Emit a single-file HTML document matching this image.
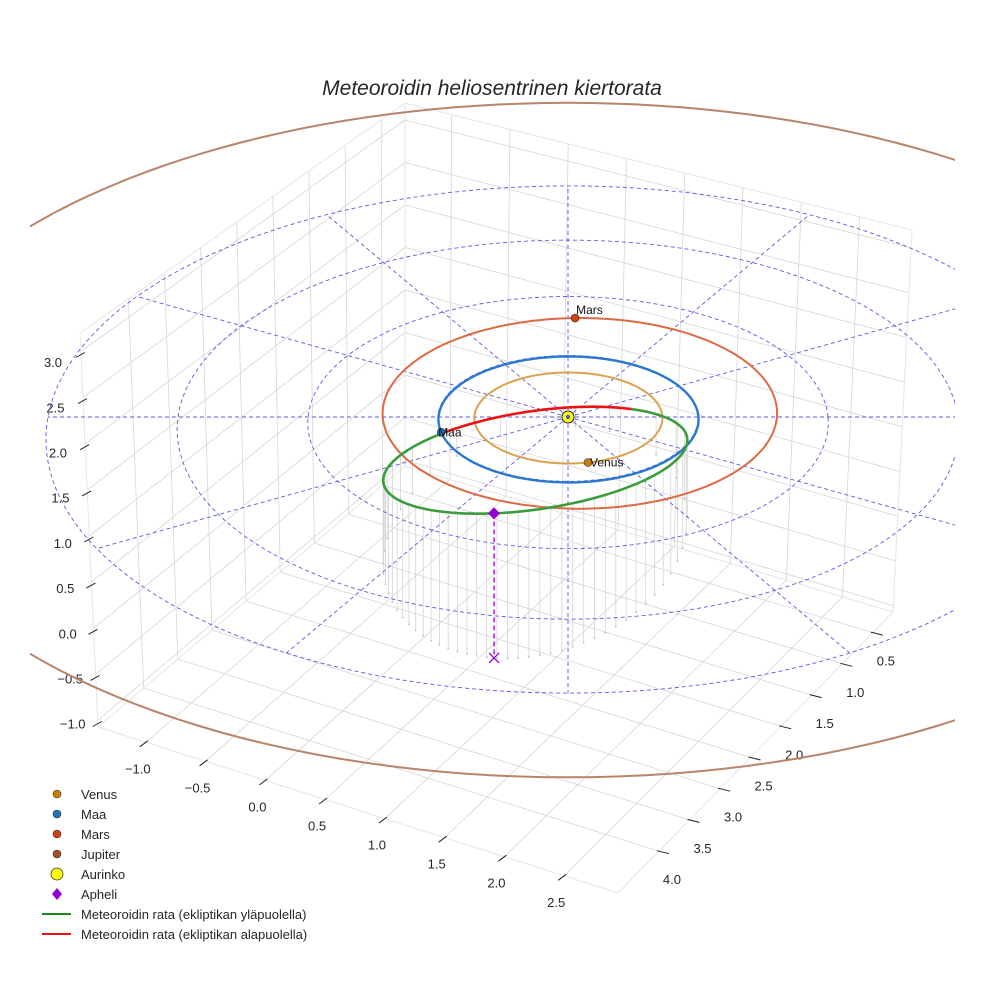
<!DOCTYPE html>
<html><head><meta charset="utf-8">
<style>
html,body{margin:0;padding:0;background:#fff;}
svg{display:block;font-family:"Liberation Sans",sans-serif;}
</style></head>
<body>
<svg id="chart" width="984" height="984" viewBox="0 0 984 984" xmlns="http://www.w3.org/2000/svg">
<defs><clipPath id="clip"><rect x="30" y="0" width="925" height="984"/></clipPath></defs>
<rect x="0" y="0" width="984" height="984" fill="#fff"/>
<text x="492" y="95" text-anchor="middle" font-size="21" font-style="italic" fill="#262626">Meteoroidin heliosentrinen kiertorata</text>
<g id="box"></g>
<g id="plot" clip-path="url(#clip)"></g>
<g id="legend">
  <circle cx="57" cy="794" r="4" fill="#c97e0c" stroke="#333" stroke-width="0.6"/>
  <text x="81" y="799" font-size="13" fill="#262626">Venus</text>
  <circle cx="57" cy="814" r="4" fill="#1f77b4" stroke="#333" stroke-width="0.6"/>
  <text x="81" y="819" font-size="13" fill="#262626">Maa</text>
  <circle cx="57" cy="834" r="4" fill="#cc4411" stroke="#333" stroke-width="0.6"/>
  <text x="81" y="839" font-size="13" fill="#262626">Mars</text>
  <circle cx="57" cy="854" r="4" fill="#a0522d" stroke="#333" stroke-width="0.6"/>
  <text x="81" y="859" font-size="13" fill="#262626">Jupiter</text>
  <circle cx="57" cy="874" r="6" fill="#ffff00" stroke="#333" stroke-width="0.8"/>
  <text x="81" y="879" font-size="13" fill="#262626">Aurinko</text>
  <polygon points="57,888 62,894 57,900 52,894" fill="#9400d3"/>
  <text x="81" y="899" font-size="13" fill="#262626">Apheli</text>
  <line x1="42" y1="914" x2="71" y2="914" stroke="#1a8a1a" stroke-width="2"/>
  <text x="81" y="919" font-size="13" fill="#262626">Meteoroidin rata (ekliptikan yläpuolella)</text>
  <line x1="42" y1="934" x2="71" y2="934" stroke="#ee1111" stroke-width="2"/>
  <text x="81" y="939" font-size="13" fill="#262626">Meteoroidin rata (ekliptikan alapuolella)</text>
</g>
</svg>
<script>
// ---- data ----
const xTicks = [-1.0,-0.5,0.0,0.5,1.0,1.5,2.0,2.5];
const yTicks = [0.5,1.0,1.5,2.0,2.5,3.0,3.5,4.0];
const zTicks = [-1.0,-0.5,0.0,0.5,1.0,1.5,2.0,2.5,3.0];
const xLim = [-1.4,2.95];
const yLim = [0.17,4.67];
const zLim = [-1.07,3.2];
const ringRadii = [1,2,3,4];
const radialAngles = [0,30,60,90,120,150,180,210,240,270,300,330];
const planetNames = ["Jupiter","Mars","Venus","Maa"];
const planetA = [5.35,1.524,0.723,1.0];
const planetE = [0.05,0.0934,0.0068,0.0167];
const planetPeri = [-90,-130,131,103];
const planetPos = [180,88,-78,194];
const metA = 1.852, metE = 0.8, metInc = 22, metNode = 194, metArgPeri = -112.2;
const dropFloorZ = -0.34;

// ---- projection (ecliptic frame) ----
const SVGNS="http://www.w3.org/2000/svg";
function proj(X,Y,Z){const w=1+0.0222*Y;return [568+130*X/w,417-(62.9*Y+90*Z)/w];}
function mk(tag,attrs,parent){const e=document.createElementNS(SVGNS,tag);for(const k in attrs)e.setAttribute(k,attrs[k]);parent.appendChild(e);return e;}
function pathD(pts){return pts.map((p,i)=>(i?'L':'M')+p[0].toFixed(1)+' '+p[1].toFixed(1)).join(' ');}
const box=document.getElementById('box'), plot=document.getElementById('plot');

// ---- axes box ----
const C={B:[405,466],L:[98,727],R:[893,612],F:[618,893],TB:[405,103],TL:[80,333],TR:[912,230]};
function lerp(a,b,t){return [a[0]+(b[0]-a[0])*t,a[1]+(b[1]-a[1])*t];}
function fx(x){return (x-xLim[0])/(xLim[1]-xLim[0]);}
function fy(y){return (y-yLim[0])/(yLim[1]-yLim[0]);}
function fz(z){return (z-zLim[0])/(zLim[1]-zLim[0]);}
function floorPt(u,v){return lerp(lerp(C.B,C.R,u),lerp(C.L,C.F,u),v);}
function leftWall(v,h){return lerp(lerp(C.B,C.L,v),lerp(C.TB,C.TL,v),h);}
function rightWall(u,h){return lerp(lerp(C.B,C.R,u),lerp(C.TB,C.TR,u),h);}
function gl(a,b,name,col,wid){const l=mk('line',{x1:a[0].toFixed(1),y1:a[1].toFixed(1),x2:b[0].toFixed(1),y2:b[1].toFixed(1),stroke:col||'#d6d6d6','stroke-width':wid||0.8},box);}
xTicks.forEach(t=>{const u=fx(t);gl(floorPt(u,0),floorPt(u,1),'floor-grid-x');gl(rightWall(u,0),rightWall(u,1),'wall-grid-x');});
yTicks.forEach(t=>{const v=fy(t);gl(floorPt(0,v),floorPt(1,v),'floor-grid-y');gl(leftWall(v,0),leftWall(v,1),'wall-grid-y');});
zTicks.forEach(t=>{const h=fz(t);gl(leftWall(0,h),leftWall(1,h),'wall-grid-z');gl(rightWall(0,h),rightWall(1,h),'wall-grid-z');});
[[C.B,C.L],[C.B,C.R],[C.L,C.F],[C.R,C.F],[C.TB,C.TL],[C.TB,C.TR],[C.TL,C.L],[C.TR,C.R],[C.TB,C.B]].forEach(e=>gl(e[0],e[1],'box-edge','#e6e6e6',1));
function lab(x,y,s,name){const t=mk('text',{x:x.toFixed(1),y:y.toFixed(1),'text-anchor':'middle','font-size':13,fill:'#262626'},box);t.textContent=s;}
function fmt(v){return (v<0?'\u2212':'')+Math.abs(v).toFixed(1);}
xTicks.forEach(t=>{const p=lerp(C.L,C.F,fx(t));gl([p[0]+2,p[1]-1.5],[p[0]-6,p[1]+4.5],'x-tick','#222',1);lab(p[0]-8,p[1]+31,fmt(t),'x-tick-label');});
yTicks.forEach(t=>{const p=lerp(C.R,C.F,fy(t));gl([p[0]-2,p[1]-0.5],[p[0]+10,p[1]+2.5],'y-tick','#222',1);lab(p[0]+13,p[1]+33,fmt(t),'y-tick-label');});
zTicks.forEach(t=>{const f=1-fz(t);const p=lerp(C.TL,C.L,f);gl([p[0]-5,p[1]+6],[p[0]+4,p[1]+1],'z-tick','#222',1);lab(p[0]-28+3*f,p[1]+16-8*f,fmt(t),'z-tick-label');});

// ---- orbit helpers ----
const D=Math.PI/180;
function orbitR(a,e,peri,ang){return a*(1-e*e)/(1+e*Math.cos((ang-peri)*D));}
function orbitPts(a,e,peri){const pts=[];for(let d=0;d<=360;d+=2){const r=orbitR(a,e,peri,d),t=d*D;pts.push(proj(r*Math.cos(t),r*Math.sin(t),0));}return pts;}
function metPointNu(nu){const u=nu+metArgPeri;const r=metA*(1-metE*metE)/(1+metE*Math.cos(nu*D));const xp=r*Math.cos(u*D),yp=r*Math.sin(u*D);
 const X=xp*Math.cos(metNode*D)-yp*Math.cos(metInc*D)*Math.sin(metNode*D);
 const Y=xp*Math.sin(metNode*D)+yp*Math.cos(metInc*D)*Math.cos(metNode*D);
 const Z=yp*Math.sin(metInc*D);return [X,Y,Z];}
function nuFromMean(Mdeg){const M=Mdeg*D;let E=M;for(let k=0;k<30;k++)E=E-(E-metE*Math.sin(E)-M)/(1-metE*Math.cos(E));
 return 2*Math.atan2(Math.sqrt(1+metE)*Math.sin(E/2),Math.sqrt(1-metE)*Math.cos(E/2))/D;}

// drop lines (equal time steps)
for(let m=0;m<360;m+=7){const P=metPointNu(nuFromMean(m));const a=proj(P[0],P[1],P[2]),b=proj(P[0],P[1],dropFloorZ);
 const l=mk('line',{x1:a[0].toFixed(1),y1:a[1].toFixed(1),x2:b[0].toFixed(1),y2:b[1].toFixed(1),stroke:'#d4d4d4','stroke-width':0.8},plot);
 
 const c=mk('circle',{cx:b[0].toFixed(1),cy:b[1].toFixed(1),r:0.9,fill:'#bbb'},plot);
 }

// rings & radial lines
ringRadii.forEach(r=>{const pts=[];for(let d=0;d<=360;d+=2){pts.push(proj(r*Math.cos(d*D),r*Math.sin(d*D),0));}
 const p=mk('path',{d:pathD(pts),fill:'none',stroke:'#5a5ae6','stroke-width':0.9,'stroke-dasharray':'4 3'},plot);
 });
radialAngles.forEach(a=>{const s=proj(0,0,0),e=proj(4*Math.cos(a*D),4*Math.sin(a*D),0);
 const l=mk('line',{x1:s[0],y1:s[1],x2:e[0].toFixed(1),y2:e[1].toFixed(1),stroke:'#5a5ae6','stroke-width':0.9,'stroke-dasharray':'4 3'},plot);
 });

// planet orbits
const orbitColors={Jupiter:'#b8856a',Mars:'#dd6a44',Venus:'#dba34c',Maa:'#2a78d0'};
const dotColors={Jupiter:'#a0522d',Mars:'#cc4411',Venus:'#c97e0c',Maa:'#1f77b4'};
planetNames.forEach((n,i)=>{const p=mk('path',{d:pathD(orbitPts(planetA[i],planetE[i],planetPeri[i])),fill:'none',stroke:orbitColors[n],'stroke-width':n==='Maa'?2.4:2},plot);
 });

// meteoroid orbit split by ecliptic side
let seg=[],segSign=null;
function flush(){if(seg.length>1){const p=mk('path',{d:pathD(seg),fill:'none',stroke:segSign?'#3a9c3a':'#ee1111','stroke-width':2.6},plot);
 }}
for(let nu=-180;nu<=180;nu+=1){const P=metPointNu(nu);const s=P[2]>=-1e-9;const q=proj(P[0],P[1],P[2]);
 if(segSign===null)segSign=s;if(s!==segSign){seg.push(q);flush();seg=[q];segSign=s;}else seg.push(q);}
flush();

// aphelion
const AP=metPointNu(180);const ap=proj(AP[0],AP[1],AP[2]),af=proj(AP[0],AP[1],dropFloorZ);
let el=mk('line',{x1:ap[0].toFixed(1),y1:ap[1].toFixed(1),x2:af[0].toFixed(1),y2:af[1].toFixed(1),stroke:'#9400d3','stroke-width':1.3,'stroke-dasharray':'5 3'},plot);

el=mk('path',{d:`M${af[0]-5} ${af[1]-5}L${af[0]+5} ${af[1]+5}M${af[0]-5} ${af[1]+5}L${af[0]+5} ${af[1]-5}`,stroke:'#9400d3','stroke-width':1.3},plot);

el=mk('polygon',{points:`${ap[0]},${ap[1]-6} ${ap[0]+6},${ap[1]} ${ap[0]},${ap[1]+6} ${ap[0]-6},${ap[1]}`,fill:'#9400d3'},plot);


// planets
const labelOff={Mars:[1,-4],Venus:[2,4],Maa:[-3,4],Jupiter:[2,-4]};
planetNames.forEach((n,i)=>{const r=orbitR(planetA[i],planetE[i],planetPeri[i],planetPos[i]);const q=proj(r*Math.cos(planetPos[i]*D),r*Math.sin(planetPos[i]*D),0);
 const c=mk('circle',{cx:q[0].toFixed(1),cy:q[1].toFixed(1),r:4,fill:dotColors[n],stroke:'#333','stroke-width':0.6},plot);
 
 const t=mk('text',{x:(q[0]+labelOff[n][0]).toFixed(1),y:(q[1]+labelOff[n][1]).toFixed(1),'font-size':12,fill:'#111'},plot);t.textContent=n;
 });

// sun
const sp=proj(0,0,0);
el=mk('circle',{cx:sp[0],cy:sp[1],r:6,fill:'#ffff00',stroke:'#222','stroke-width':1},plot);

el=mk('circle',{cx:sp[0],cy:sp[1],r:2.2,fill:'#4a5ad0'},plot);

</script>
</body></html>
